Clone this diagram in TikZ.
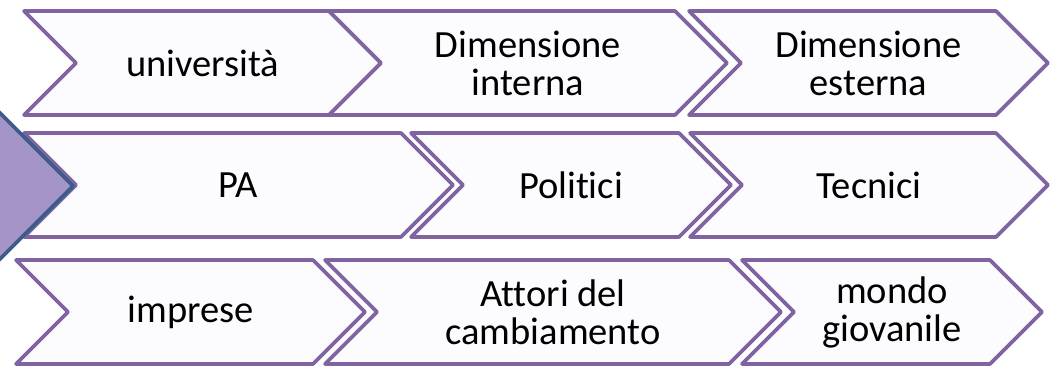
\documentclass[tikz,border=0pt]{standalone}
\usepackage{fontspec}
\setmainfont{Carlito}[Ligatures=NoCommon]
\definecolor{ChevLine}{RGB}{128,100,162}
\definecolor{ChevFill}{RGB}{252,251,254}
\definecolor{LeadFill}{RGB}{165,148,199}
\definecolor{LeadLine}{RGB}{62,92,138}

% name, left x, right x, middle y, text
\newcommand{\Chevron}[5]{%
  \draw[chevShape] (#2,#4-52) -- (#3,#4-52) -- (#3+52,#4) -- (#3,#4+52)
    -- (#2,#4+52) -- (#2+52,#4) -- cycle;
  \node[chevText] (#1) at ({(#2+#3+52)/2},#4) {#5};
}

\begin{document}
\begin{tikzpicture}[x=1pt,y=-1pt,
  chevShape/.style={draw=ChevLine,fill=ChevFill,line width=3.6pt,line join=round},
  chevText/.style={align=center,font=\fontsize{38.5}{38}\selectfont,text=black}]
\useasboundingbox (0,0) rectangle (1051,376);
\clip (0,0) rectangle (1051,376);

% first row
\Chevron{univ}{24}{329}{63}{università}
\Chevron{dimInt}{329}{675}{63}{Dimensione\\interna}
\Chevron{dimEst}{689}{996}{63}{Dimensione\\esterna}

% second row
\Chevron{pa}{24}{401}{185}{PA}
\Chevron{polit}{411}{679}{185}{Politici}
\Chevron{tecn}{690}{996}{185}{Tecnici}

% third row
\Chevron{impr}{16}{313}{312}{imprese}
\Chevron{attori}{325}{729}{312}{Attori del\\cambiamento}
\Chevron{mondo}{742}{990}{312}{mondo\\giovanile}

% leading arrow, cut by the left edge
\draw[fill=LeadFill,draw=LeadLine,line width=3.6pt,line join=round]
  (-150,-37) -- (73,186) -- (-150,409) -- cycle;

\end{tikzpicture}
\end{document}
